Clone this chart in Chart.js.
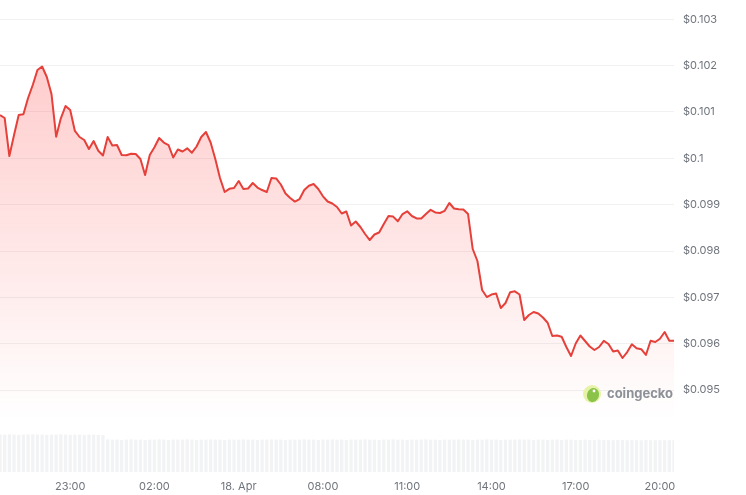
<!DOCTYPE html>
<html>
<head>
<meta charset="utf-8">
<script src="https://cdn.jsdelivr.net/npm/chart.js@4.4.1/dist/chart.umd.min.js"></script>
<style>
html, body { margin: 0; padding: 0; background: #fff; }
#wrap { width: 746px; height: 495px; position: relative; }
</style>
</head>
<body>
<div id="wrap"><canvas id="grafica" width="746" height="495"></canvas></div>
<script>
//--------------------//
//--|datos_grafica|--//
//--------------------//
// horas desde 17 Apr 00:00, un punto cada 10 min
const horaInicio = 20.5;
const pasoHoras = 1 / 6;

const precios = [
    0.100935, 0.100870, 0.100050, 0.100503, 0.100935, 0.100950, 0.101302, 0.101582, 0.101906, 0.101981,
    0.101755, 0.101388, 0.100467, 0.100864, 0.101129, 0.101043, 0.100590, 0.100460, 0.100395, 0.100201,
    0.100374, 0.100164, 0.100061, 0.100460, 0.100277, 0.100287, 0.100072, 0.100065, 0.100100, 0.100093,
    0.099985, 0.099640, 0.100072, 0.100238, 0.100439, 0.100341, 0.100287, 0.100018, 0.100190, 0.100147,
    0.100216, 0.100121, 0.100255, 0.100460, 0.100568, 0.100341, 0.099985, 0.099575, 0.099273, 0.099342,
    0.099360, 0.099511, 0.099338, 0.099349, 0.099467, 0.099370, 0.099316, 0.099273, 0.099575, 0.099565,
    0.099435, 0.099241, 0.099144, 0.099066, 0.099122, 0.099316, 0.099409, 0.099446, 0.099338, 0.099180,
    0.099068, 0.099025, 0.098950, 0.098809, 0.098852, 0.098550, 0.098637, 0.098518, 0.098367, 0.098237,
    0.098356, 0.098399, 0.098583, 0.098755, 0.098742, 0.098641, 0.098798, 0.098857, 0.098755, 0.098703,
    0.098701, 0.098798, 0.098889, 0.098831, 0.098820, 0.098867, 0.099036, 0.098917, 0.098900, 0.098896,
    0.098798, 0.098043, 0.097784, 0.097158, 0.097007, 0.097061, 0.097083, 0.096770, 0.096878, 0.097111,
    0.097130, 0.097061, 0.096511, 0.096619, 0.096684, 0.096651, 0.096565, 0.096451, 0.096166, 0.096176,
    0.096149, 0.095928, 0.095734, 0.096004, 0.096176, 0.096058, 0.095939, 0.095864, 0.095928, 0.096062,
    0.095993, 0.095831, 0.095853, 0.095691, 0.095820, 0.095987, 0.095900, 0.095881, 0.095756, 0.096064,
    0.096036, 0.096107, 0.096252, 0.096064, 0.096064
];

// volumen 24h (millones USD)
const volumenes = [
    13.9, 13.9, 14.0, 13.9, 13.8, 13.9, 14.0, 14.0, 13.9, 13.9,
    13.8, 13.9, 13.9, 14.0, 13.9, 13.8, 13.9, 13.9, 13.8, 13.9,
    13.9, 13.8, 13.7, 12.1, 12.0, 12.0, 11.9, 12.0, 12.1, 12.0,
    12.0, 11.9, 12.0, 12.0, 12.1, 12.0, 11.9, 12.0, 12.0, 12.0,
    12.1, 12.0, 11.9, 12.0, 12.0, 12.1, 12.0, 12.0, 11.9, 12.0,
    12.0, 12.0, 12.1, 12.0, 12.0, 11.9, 12.0, 12.0, 12.1, 12.0,
    12.0, 11.9, 12.0, 12.0, 12.0, 12.1, 12.0, 12.0, 11.9, 12.0,
    12.0, 12.1, 12.0, 12.0, 11.9, 12.0, 12.0, 12.0, 12.1, 12.0,
    12.0, 11.9, 12.0, 12.0, 12.1, 12.0, 12.0, 11.9, 12.0, 12.0,
    12.0, 12.1, 12.0, 12.0, 11.9, 12.0, 12.0, 12.0, 12.1, 12.0,
    12.0, 11.9, 12.0, 12.0, 12.1, 12.0, 12.0, 11.9, 12.0, 12.0,
    12.0, 12.1, 12.0, 12.0, 11.9, 12.0, 12.0, 11.9, 12.0, 12.0,
    11.9, 12.0, 12.0, 11.9, 11.9, 12.0, 11.9, 11.9, 12.0, 11.9,
    11.9, 11.8, 11.9, 11.9, 11.8, 11.9, 11.8, 11.8, 11.9, 11.8,
    11.8, 11.8, 11.8, 11.8, 11.8
];

const ticksX = [23, 26, 29, 32, 35, 38, 41, 44];
const etiquetasX = ['23:00', '02:00', '18. Apr', '08:00', '11:00', '14:00', '17:00', '20:00'];

const ticksY = [0.095, 0.096, 0.097, 0.098, 0.099, 0.1, 0.101, 0.102, 0.103];
const etiquetasY = ['$0.095', '$0.096', '$0.097', '$0.098', '$0.099', '$0.1', '$0.101', '$0.102', '$0.103'];

//------------------------------//
//--|funcionalidad_la_grafica|--//
//------------------------------//
const colorTexto = '#70757d';
Chart.defaults.font.family = 'Inter, "Noto Sans", sans-serif';

const puntosPrecio = precios.map((p, i) => ({ x: horaInicio + i * pasoHoras, y: p }));
const puntosVolumen = volumenes.map((v, i) => ({ x: horaInicio + i * pasoHoras, y: v }));

const marcaAgua = {
    id: 'marcaAgua',
    afterDatasetsDraw(chart) {
        const ctx = chart.ctx;
        ctx.save();
        // logo
        ctx.beginPath();
        ctx.arc(592, 394, 9, 0, Math.PI * 2);
        ctx.fillStyle = '#e6f2a8';
        ctx.fill();
        ctx.beginPath();
        ctx.ellipse(593, 395, 6, 7, 0.3, 0, Math.PI * 2);
        ctx.fillStyle = '#8bc34a';
        ctx.fill();
        ctx.beginPath();
        ctx.arc(594, 391, 1.4, 0, Math.PI * 2);
        ctx.fillStyle = '#ffffff';
        ctx.fill();
        // texto
        ctx.font = 'bold 13px Inter, "Noto Sans", sans-serif';
        ctx.fillStyle = '#8c9097';
        ctx.textBaseline = 'middle';
        ctx.textAlign = 'left';
        ctx.fillText('coingecko', 607, 394);
        ctx.restore();
    }
};

new Chart(document.getElementById('grafica'), {
    data: {
        datasets: [
            {
                type: 'line',
                data: puntosPrecio,
                yAxisID: 'y',
                borderColor: '#e5403a',
                borderWidth: 2,
                borderJoinStyle: 'round',
                pointRadius: 0,
                tension: 0,
                fill: 'start',
                order: 0,
                backgroundColor: (context) => {
                    const chart = context.chart;
                    if (!chart.chartArea) return 'rgba(255,0,0,0.1)';
                    const g = chart.ctx.createLinearGradient(0, 40, 0, 420);
                    g.addColorStop(0, 'rgba(255,30,30,0.24)');
                    g.addColorStop(1, 'rgba(255,30,30,0)');
                    return g;
                }
            },
            {
                type: 'bar',
                data: puntosVolumen,
                yAxisID: 'yv',
                backgroundColor: '#f2f3f5',
                barThickness: 2.6,
                order: 1
            }
        ]
    },
    options: {
        responsive: false,
        animation: false,
        devicePixelRatio: 1,
        layout: { padding: 0 },
        plugins: {
            legend: { display: false },
            tooltip: { enabled: false }
        },
        scales: {
            x: {
                type: 'linear',
                offset: false,
                min: 20.5,
                max: 44.5,
                grid: { display: false, drawTicks: false, offset: false },
                border: { display: false },
                afterBuildTicks: (s) => { s.ticks = ticksX.map(v => ({ value: v })); },
                afterFit: (s) => { s.height = 23; s.paddingLeft = 0; s.paddingRight = 0; },
                ticks: {
                    autoSkip: false,
                    maxRotation: 0,
                    padding: 8,
                    color: colorTexto,
                    font: { size: 11 },
                    callback: (v, i) => etiquetasX[i]
                }
            },
            y: {
                type: 'linear',
                position: 'right',
                min: 0.0932309,
                max: 0.1034165,
                grid: { color: '#f1f1f1', drawTicks: false },
                border: { display: false },
                afterBuildTicks: (s) => { s.ticks = ticksY.map(v => ({ value: v })); },
                afterFit: (s) => { s.width = 72; s.paddingTop = 0; s.paddingBottom = 0; },
                ticks: {
                    padding: 9,
                    color: colorTexto,
                    font: { size: 11 },
                    callback: (v, i) => etiquetasY[i]
                }
            },
            yv: {
                type: 'linear',
                display: false,
                min: 0,
                max: 177
            }
        }
    },
    plugins: [marcaAgua]
});
</script>
</body>
</html>
